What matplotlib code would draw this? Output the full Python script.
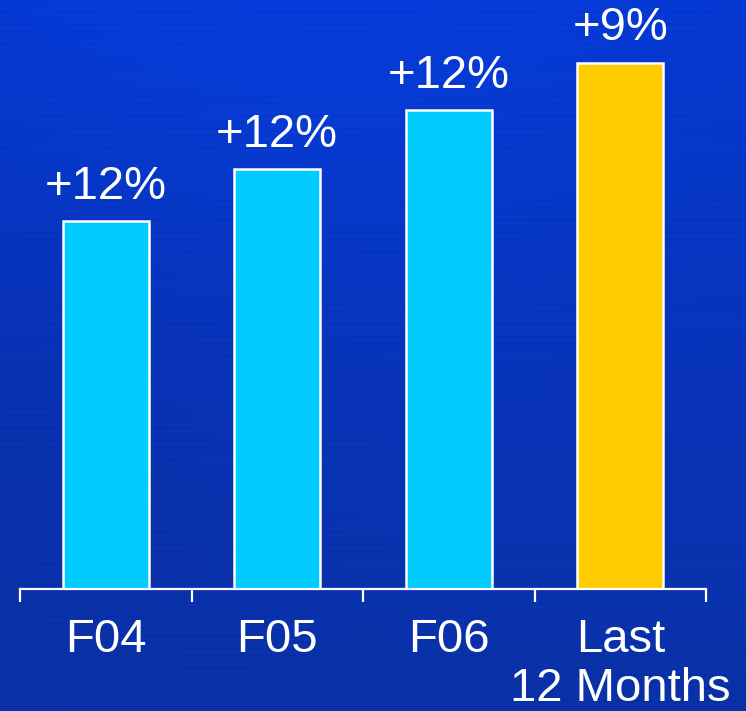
import numpy as np
import matplotlib
matplotlib.use("Agg")
import matplotlib.pyplot as plt
from matplotlib.colors import to_rgb

# Revenue index per period and year-over-year growth
categories = ["F04", "F05", "F06", "Last\n12 Months"]
values = [100, 114, 130, 143]
growth_labels = ["+12%", "+12%", "+12%", "+9%"]
bar_colors = ["#00CCFF", "#00CCFF", "#00CCFF", "#FFCC00"]

plt.rcParams["font.family"] = ["Liberation Sans", "DejaVu Sans"]

W, H, DPI = 746, 711, 100
fig = plt.figure(figsize=(W / DPI, H / DPI), dpi=DPI)

# Blue gradient background with faint horizontal banding
bg = fig.add_axes([0, 0, 1, 1])
bg.set_axis_off()
yy, xx = np.mgrid[0:H, 0:W]
top = np.array(to_rgb("#0637CE"))
bottom = np.array(to_rgb("#0A31A6"))
t = (yy / (H - 1))[..., None]
img = top * (1 - t) + bottom * t
# brighter glow towards the upper middle
glow = np.exp(-(((xx - 330) / 380.0) ** 2 + ((yy - 0) / 260.0) ** 2))[..., None]
img = img + glow * np.array([0.0, 0.02, 0.05])
# darker towards the left edge low down
shade = np.exp(-(((xx - 0) / 250.0) ** 2 + ((yy - 420) / 250.0) ** 2))[..., None]
img = img - shade * np.array([0.0, 0.01, 0.03])
stripes = (np.sin(yy * 2 * np.pi / 6.5) * 0.010)[..., None]
img = np.clip(img + stripes * np.array([0.3, 0.6, 1.0]), 0, 1)
bg.imshow(img, extent=[0, 1, 0, 1], aspect="auto", origin="upper")

# Bar chart
ax = fig.add_axes([20 / W, (H - 589) / H, 686 / W, 589 / H])
ax.patch.set_alpha(0)
x = np.arange(len(categories))
bars = ax.bar(x, values, width=0.5, color=bar_colors, edgecolor="white",
              linewidth=1.8, zorder=3)

for rect, lab in zip(bars, growth_labels):
    ax.annotate(lab, (rect.get_x() + rect.get_width() / 2, rect.get_height()),
                xytext=(0, 16), textcoords="offset points",
                ha="center", va="baseline", color="white", fontsize=34)

ax.set_xlim(-0.5, 3.5)
ax.set_ylim(0, 160)

for side in ("top", "right", "left"):
    ax.spines[side].set_visible(False)
ax.spines["bottom"].set_color("white")
ax.spines["bottom"].set_linewidth(1.6)
ax.spines["bottom"].set_zorder(4)
ax.set_yticks([])

ax.set_xticks(x)
ax.set_xticklabels(categories, color="white", fontsize=34, linespacing=1.15)
ax.tick_params(axis="x", which="major", length=0, pad=21)
ax.set_xticks(np.arange(-0.5, 4.0, 1.0), minor=True)
ax.tick_params(axis="x", which="minor", length=9.5, width=1.6, color="white",
               direction="out")

fig.savefig("out.png", dpi=DPI)
